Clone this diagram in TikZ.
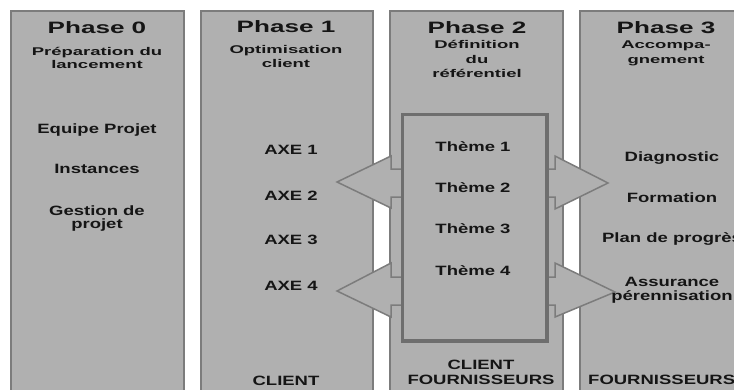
\documentclass[tikz,border=0pt]{standalone}
\usepackage{fontspec}
% wide sans faces for the titles, subtitles and items
\newfontfamily\fhead[FakeStretch=1.58]{Liberation Sans}
\newfontfamily\fsub[FakeStretch=1.65]{Liberation Sans}
\newfontfamily\fitem[FakeStretch=1.37]{Liberation Sans}
\definecolor{panel}{HTML}{B0B0B0}
\definecolor{edge}{HTML}{7C7C7C}
\definecolor{boxedge}{HTML}{6E6E6E}
\definecolor{ink}{HTML}{151515}
\begin{document}
\begin{tikzpicture}[x=1pt,y=-1pt,
  column/.style={fill=panel,draw=edge,line width=1.8pt},
  flow/.style={fill=panel,draw=edge,line width=1.5pt,line join=miter},
  refbox/.style={draw=boxedge,fill=panel,line width=2.5pt,inner sep=0,
    minimum width=143pt,minimum height=225pt},
  head/.style={anchor=base,inner sep=0,text=ink,font=\fhead\bfseries\fontsize{16.5}{18}\selectfont},
  sub/.style={anchor=base,inner sep=0,text=ink,font=\fsub\bfseries\fontsize{11.2}{13}\selectfont},
  item/.style={anchor=base,inner sep=0,text=ink,font=\fitem\bfseries\fontsize{13.5}{15}\selectfont}
]
\useasboundingbox (0,0) rectangle (734,389);
\clip (0,0) rectangle (734,389);
\fill[white] (0,0) rectangle (734,389);

% the four phase columns
\draw[column] (11,11) rectangle (184,400);
\draw[column] (201,11) rectangle (373,400);
\draw[column] (390,11) rectangle (563,400);
\draw[column] (580,11) rectangle (753,400);

% the central box of themes
\node[refbox] (ref) at (474.5,227.5) {};

% arrows from the box towards phases 1 and 3
\draw[flow] (ref.west |- 0,169) -- (391,169) -- (391,156) -- (337,182)
  -- (391,208) -- (391,197) -- (ref.west |- 0,197);
\draw[flow] (ref.west |- 0,277) -- (391,277) -- (391,263) -- (337,291)
  -- (391,317) -- (391,305) -- (ref.west |- 0,305);
\draw[flow] (ref.east |- 0,169) -- (555,169) -- (555,156) -- (608,183)
  -- (555,209) -- (555,197) -- (ref.east |- 0,197);
\draw[flow] (ref.east |- 0,277) -- (555,277) -- (555,263) -- (615,292)
  -- (555,317) -- (555,305) -- (ref.east |- 0,305);
\draw[draw=boxedge,line width=2.5pt] (ref.north west) rectangle (ref.south east);

% phase 0
\node[head] (p0) at (97,33) {Phase 0};
\node[sub] (p0a) at (97,55) {Préparation du};
\node[sub] (p0b) at (97,68) {lancement};
\node[item] (p0c) at (97,133) {Equipe Projet};
\node[item] (p0d) at (97,173) {Instances};
\node[item] (p0e) at (97,215) {Gestion de};
\node[item] (p0f) at (97,228) {projet};

% phase 1
\node[head] (p1) at (286,32) {Phase 1};
\node[sub] (p1a) at (286,53) {Optimisation};
\node[sub] (p1b) at (286,67) {client};
\node[item] (ax1) at (291,154) {AXE 1};
\node[item] (ax2) at (291,200) {AXE 2};
\node[item] (ax3) at (291,244) {AXE 3};
\node[item] (ax4) at (291,290) {AXE 4};
\node[item] (p1c) at (286,385) {CLIENT};

% phase 2
\node[head] (p2) at (477,33) {Phase 2};
\node[sub] (p2a) at (477,48) {Définition};
\node[sub] (p2b) at (477,63) {du};
\node[sub] (p2c) at (477,77) {référentiel};
\node[item] (t1) at (473,151) {Thème 1};
\node[item] (t2) at (473,192) {Thème 2};
\node[item] (t3) at (473,233) {Thème 3};
\node[item] (t4) at (473,275) {Thème 4};
\node[item] (p2d) at (481,369) {CLIENT};
\node[item] (p2e) at (481,384) {FOURNISSEURS};

% phase 3
\node[head] (p3) at (666,33) {Phase 3};
\node[sub] (p3a) at (666,48) {Accompa-};
\node[sub] (p3b) at (666,63) {gnement};
\node[item] (d1) at (672,161) {Diagnostic};
\node[item] (d2) at (672,202) {Formation};
\node[item] (d3) at (672,242) {Plan de progrès};
\node[item] (d4) at (672,286) {Assurance};
\node[item] (d5) at (672,300) {pérennisation};
\node[item,anchor=base west] (p3c) at (588,384) {FOURNISSEURS};
\end{tikzpicture}
\end{document}
